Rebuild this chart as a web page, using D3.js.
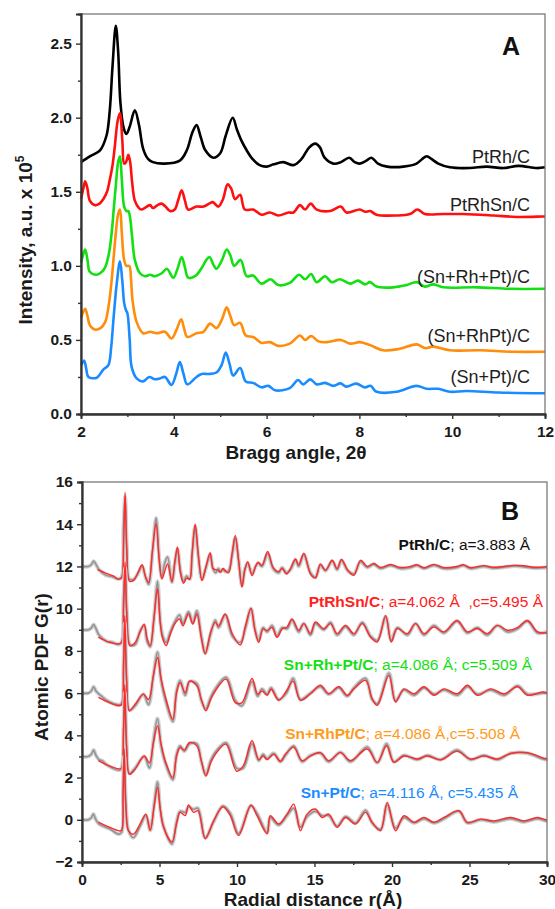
<!DOCTYPE html>
<html><head><meta charset="utf-8">
<script src="https://cdn.jsdelivr.net/npm/d3@7"></script>
<style>
body{margin:0;background:#fff}
text{font-family:"Liberation Sans",Arial,sans-serif}
</style></head>
<body><svg id="c" width="555" height="909"></svg>
<script>
// ---------- Panel A data: XRD patterns [2theta, intensity x1e5] ----------
const xrdNames = ["PtRh/C","PtRhSn/C","(Sn+Rh+Pt)/C","(Sn+RhPt)/C","(Sn+Pt)/C"];
const xrdColors = ["#000000","#ff1010","#12e012","#ff8c0a","#1a8cff"];
const xrdPtRh = [[2.0,1.70],[2.2,1.74],[2.41,1.78],[2.55,1.88],[2.62,2.05],[2.68,2.35],[2.75,2.62],[2.8,2.45],[2.85,2.1],[2.92,1.93],[2.98,1.89],[3.05,1.94],[3.16,2.05],[3.25,1.95],[3.34,1.79],[3.45,1.72],[3.55,1.70],[3.8,1.69],[4.13,1.71],[4.28,1.78],[4.4,1.9],[4.49,1.95],[4.58,1.87],[4.68,1.78],[4.85,1.73],[5.0,1.76],[5.12,1.88],[5.27,2.0],[5.36,1.92],[5.45,1.85],[5.57,1.78],[5.7,1.72],[5.85,1.68],[6.0,1.67],[6.15,1.685],[6.36,1.70],[6.58,1.68],[6.75,1.72],[6.92,1.80],[7.05,1.825],[7.15,1.80],[7.25,1.73],[7.44,1.69],[7.6,1.70],[7.78,1.73],[7.9,1.70],[8.01,1.69],[8.15,1.71],[8.26,1.73],[8.4,1.69],[8.6,1.67],[8.95,1.67],[9.23,1.69],[9.35,1.72],[9.45,1.74],[9.56,1.72],[9.7,1.69],[9.95,1.665],[10.38,1.66],[10.74,1.67],[11.1,1.66],[11.43,1.675],[11.82,1.66],[12.0,1.665]];
const xrdPtRhSn = [[2.0,1.45],[2.05,1.52],[2.09,1.57],[2.14,1.52],[2.19,1.44],[2.3,1.41],[2.4,1.42],[2.48,1.45],[2.56,1.50],[2.62,1.58],[2.68,1.68],[2.73,1.81],[2.79,1.98],[2.84,2.03],[2.89,1.85],[2.93,1.69],[2.97,1.70],[3.02,1.75],[3.06,1.70],[3.1,1.57],[3.16,1.44],[3.25,1.39],[3.31,1.38],[3.42,1.40],[3.49,1.41],[3.55,1.39],[3.65,1.41],[3.74,1.42],[3.82,1.40],[3.92,1.37],[4.02,1.38],[4.1,1.45],[4.17,1.51],[4.24,1.44],[4.31,1.38],[4.49,1.40],[4.64,1.40],[4.76,1.42],[4.84,1.43],[4.96,1.40],[5.06,1.45],[5.16,1.55],[5.24,1.52],[5.32,1.45],[5.43,1.48],[5.53,1.38],[5.71,1.38],[5.89,1.345],[6.07,1.36],[6.25,1.34],[6.47,1.36],[6.58,1.36],[6.72,1.41],[6.83,1.38],[6.95,1.42],[7.08,1.38],[7.37,1.37],[7.6,1.40],[7.72,1.36],[8.01,1.38],[8.12,1.365],[8.23,1.37],[8.37,1.345],[8.8,1.34],[9.09,1.35],[9.25,1.38],[9.41,1.35],[9.81,1.35],[10.24,1.35],[10.89,1.34],[11.39,1.33],[11.96,1.333],[12.0,1.333]];
const xrdSnRhPt = [[2.0,1.02],[2.05,1.08],[2.09,1.11],[2.14,1.04],[2.19,0.96],[2.34,0.94],[2.45,0.96],[2.52,0.99],[2.6,1.08],[2.66,1.22],[2.71,1.40],[2.75,1.54],[2.8,1.70],[2.84,1.74],[2.88,1.58],[2.93,1.40],[2.98,1.37],[3.02,1.37],[3.06,1.32],[3.1,1.20],[3.16,1.04],[3.27,0.95],[3.38,0.93],[3.49,0.94],[3.59,0.93],[3.74,0.95],[3.85,0.98],[3.99,0.92],[4.08,0.98],[4.17,1.06],[4.24,0.99],[4.31,0.92],[4.46,0.93],[4.6,0.985],[4.7,1.04],[4.77,1.06],[4.85,1.01],[4.92,0.98],[5.04,1.04],[5.14,1.11],[5.22,1.07],[5.3,1.00],[5.44,1.04],[5.57,0.93],[5.71,0.935],[5.89,0.88],[6.09,0.91],[6.25,0.87],[6.5,0.885],[6.7,0.94],[6.83,0.91],[6.96,0.945],[7.08,0.89],[7.26,0.93],[7.4,0.89],[7.58,0.91],[7.8,0.88],[7.97,0.90],[8.12,0.875],[8.23,0.89],[8.37,0.86],[8.73,0.855],[9.01,0.87],[9.24,0.89],[9.41,0.86],[9.59,0.875],[9.81,0.855],[10.53,0.855],[11.25,0.845],[12.0,0.845]];
const xrdSnRhPt2 = [[2.0,0.65],[2.05,0.69],[2.09,0.71],[2.14,0.66],[2.19,0.60],[2.3,0.57],[2.42,0.58],[2.52,0.62],[2.6,0.74],[2.66,0.90],[2.71,1.08],[2.75,1.22],[2.8,1.35],[2.84,1.38],[2.88,1.22],[2.93,1.04],[2.98,1.00],[3.04,1.00],[3.08,0.90],[3.11,0.77],[3.2,0.62],[3.34,0.545],[3.49,0.555],[3.63,0.545],[3.81,0.555],[3.95,0.51],[4.06,0.57],[4.16,0.64],[4.22,0.58],[4.29,0.52],[4.49,0.545],[4.64,0.555],[4.78,0.61],[4.92,0.58],[5.04,0.64],[5.14,0.72],[5.22,0.66],[5.3,0.60],[5.43,0.615],[5.55,0.53],[5.71,0.52],[5.89,0.48],[6.07,0.485],[6.25,0.46],[6.5,0.475],[6.72,0.53],[6.83,0.50],[6.96,0.527],[7.12,0.49],[7.3,0.485],[7.6,0.50],[7.8,0.475],[8.01,0.485],[8.23,0.465],[8.51,0.43],[8.87,0.44],[9.24,0.47],[9.41,0.445],[9.59,0.455],[9.95,0.43],[10.6,0.43],[11.3,0.42],[12.0,0.42]];
const xrdSnPt = [[2.0,0.33],[2.04,0.35],[2.07,0.36],[2.11,0.31],[2.16,0.25],[2.34,0.245],[2.48,0.30],[2.59,0.33],[2.65,0.45],[2.7,0.64],[2.77,0.88],[2.84,1.03],[2.89,0.90],[2.93,0.75],[2.97,0.70],[3.0,0.68],[3.05,0.50],[3.09,0.32],[3.2,0.24],[3.34,0.22],[3.47,0.25],[3.59,0.235],[3.7,0.24],[3.81,0.25],[3.95,0.196],[4.05,0.27],[4.13,0.35],[4.21,0.27],[4.29,0.20],[4.49,0.25],[4.6,0.27],[4.75,0.27],[4.92,0.28],[5.03,0.33],[5.12,0.415],[5.2,0.34],[5.28,0.26],[5.43,0.31],[5.55,0.22],[5.71,0.21],[5.89,0.18],[6.04,0.19],[6.18,0.16],[6.5,0.175],[6.68,0.23],[6.79,0.20],[6.94,0.234],[7.08,0.20],[7.26,0.21],[7.44,0.19],[7.59,0.207],[7.72,0.185],[7.93,0.205],[8.12,0.18],[8.24,0.19],[8.37,0.15],[8.8,0.15],[9.23,0.19],[9.45,0.17],[9.7,0.17],[9.95,0.15],[10.31,0.155],[11.0,0.145],[12.0,0.14]];
const xrdSeries = [xrdPtRh, xrdPtRhSn, xrdSnRhPt, xrdSnRhPt2, xrdSnPt];
const xrdTicksX = [2,4,6,8,10,12];
const xrdTicksY = [0,0.5,1.0,1.5,2.0,2.5];

// ---------- Panel B data: PDF G(r), values relative to stacking offset ----------
const pdfNames = ["PtRh/C","PtRhSn/C","Sn+Rh+Pt/C","Sn+RhPt/C","Sn+Pt/C"];
const pdfParams = ["; a=3.883 Å","; a=4.062 Å  ,c=5.495 Å","; a=4.086 Å; c=5.509 Å","; a=4.086 Å,c=5.508 Å","; a=4.116 Å, c=5.435 Å"];
const pdfTextColors = ["#111111","#ff2020","#14e014","#ff9a1a","#1a8cff"];
const pdfOffsets = [12, 9, 6, 3, 0];
const fit1 = [[1.0,-0.15],[1.5,-0.3],[2.0,-0.45],[2.35,-0.6],[2.55,-0.55],[2.68,1.0],[2.78,3.5],[2.9,0.5],[3.06,-0.7],[3.35,-0.65],[3.6,-0.3],[3.88,0.08],[4.1,-0.5],[4.3,-0.75],[4.55,0.8],[4.78,2.02],[4.98,0.3],[5.15,-0.6],[5.35,-0.2],[5.52,0.12],[5.8,-0.72],[6.0,0.3],[6.16,0.92],[6.35,-0.3],[6.55,-0.8],[6.75,-0.55],[6.95,-0.6],[7.1,0.6],[7.3,2.0],[7.5,0.6],[7.74,-0.67],[8.0,0.0],[8.27,0.65],[8.45,-0.1],[8.62,-0.15],[8.8,-0.2],[8.92,-0.27],[9.1,-0.1],[9.25,-0.2],[9.46,-0.3],[9.68,0.6],[9.89,1.47],[10.1,0.3],[10.32,-0.98],[10.5,-0.2],[10.69,0.23],[10.97,-0.44],[11.2,0.0],[11.36,0.2],[11.61,0.05],[11.98,0.71],[12.33,-0.04],[12.69,-0.24],[12.91,-0.1],[13.19,-0.36],[13.45,-0.1],[13.77,0.35],[13.98,0.07],[14.31,0.63],[14.74,-0.36],[15.06,-0.55],[15.38,0.12],[15.71,-0.18],[16.14,0.29],[16.46,-0.1],[16.74,0.33],[17.15,-0.18],[17.54,-0.42],[17.97,0.29],[18.4,0.0],[18.83,0.14],[19.26,-0.05],[19.9,0.09],[20.55,-0.05],[21.2,0.0],[21.6,0.08],[22.06,-0.06],[22.7,0.1],[23.35,-0.06],[24.2,0.0],[24.6,0.08],[25.07,-0.06],[25.93,0.04],[26.5,-0.04],[27.22,0.0],[27.9,0.05],[28.51,0.03],[29.2,-0.04],[30,0.0]];
const exp1 = [[0,0],[0.4,0],[0.6,0.08],[0.75,0.25],[0.9,0.1],[1.1,-0.15],[1.5,-0.4],[2.0,-0.5],[2.35,-0.6],[2.55,-0.5],[2.68,1.9],[2.78,3.3],[2.9,0.8],[3.06,-0.6],[3.35,-0.6],[3.6,-0.35],[3.88,0.0],[4.1,-0.5],[4.3,-0.85],[4.55,0.7],[4.78,2.3],[4.98,0.4],[5.15,-0.5],[5.35,0.2],[5.52,0.45],[5.8,-0.75],[6.0,0.2],[6.16,0.8],[6.35,-0.2],[6.55,-0.7],[6.75,-0.45],[6.95,-0.6],[7.1,0.5],[7.3,1.9],[7.5,0.5],[7.74,-0.6],[8.0,-0.05],[8.27,0.55],[8.45,-0.1],[8.62,-0.3],[8.8,-0.1],[8.92,-0.25],[9.1,-0.15],[9.25,-0.25],[9.46,-0.2],[9.68,0.5],[9.89,1.35],[10.1,0.3],[10.32,-0.9],[10.5,-0.15],[10.69,0.15],[10.97,-0.35],[11.2,0.0],[11.36,0.15],[11.61,0.0],[11.98,0.6],[12.33,-0.1],[12.69,-0.3],[12.91,-0.05],[13.19,-0.3],[13.45,-0.15],[13.77,0.3],[13.98,0.0],[14.31,0.55],[14.74,-0.3],[15.06,-0.5],[15.38,0.05],[15.71,-0.2],[16.14,0.25],[16.46,-0.15],[16.74,0.28],[17.15,-0.2],[17.54,-0.35],[17.97,0.22],[18.4,-0.05],[18.83,0.1],[19.26,-0.1],[19.9,0.05],[20.55,-0.1],[21.2,-0.05],[21.6,0.05],[22.06,-0.1],[22.7,0.05],[23.35,-0.1],[24.2,-0.05],[24.6,0.05],[25.07,-0.1],[25.93,0.0],[26.5,-0.08],[27.22,-0.04],[27.9,0.02],[28.51,-0.02],[29.2,-0.08],[30,-0.05]];
const fit2 = [[1.05,-0.35],[1.6,-0.55],[2.35,-0.67],[2.55,-0.6],[2.68,1.0],[2.78,3.2],[2.9,0.5],[3.1,-0.76],[3.43,-0.6],[3.75,-0.1],[4.01,0.27],[4.2,-0.4],[4.4,-0.76],[4.65,0.6],[4.87,1.94],[5.05,0.3],[5.21,-0.44],[5.43,-0.75],[5.7,-0.2],[6.0,0.3],[6.29,0.51],[6.51,0.19],[6.87,0.75],[7.15,0.27],[7.41,0.75],[7.7,-0.4],[7.95,-1.15],[8.3,-0.1],[8.6,0.35],[8.81,0.19],[9.24,0.75],[9.7,-0.2],[10.21,-0.72],[10.55,0.2],[10.9,1.02],[11.15,0.0],[11.4,-0.6],[11.68,0.04],[11.94,-0.04],[12.26,0.11],[12.58,-0.36],[12.91,0.04],[13.23,0.13],[13.55,0.51],[13.98,-0.02],[14.31,0.29],[14.74,-0.18],[15.06,0.37],[15.6,0.05],[16.03,0.29],[16.46,-0.18],[17.0,0.21],[17.54,-0.18],[18.08,0.29],[18.62,-0.35],[19.05,-0.58],[19.59,0.68],[19.95,-0.58],[20.34,0.06],[20.99,-0.18],[21.52,0.29],[22.06,-0.18],[22.7,0.13],[23.35,-0.1],[24.2,0.44],[24.86,-0.1],[25.5,0.06],[26.15,-0.18],[26.8,0.21],[27.45,-0.02],[28.1,0.1],[28.74,0.44],[29.39,-0.1],[30,-0.15]];
const exp2 = [[0,0],[0.4,0],[0.6,0.08],[0.75,0.25],[0.9,0.05],[1.1,-0.25],[1.6,-0.55],[2.0,-0.6],[2.35,-0.7],[2.55,-0.6],[2.68,1.5],[2.78,2.9],[2.9,0.8],[3.1,-0.7],[3.43,-0.7],[3.75,-0.05],[4.01,0.2],[4.2,-0.55],[4.4,-0.8],[4.65,0.6],[4.87,2.3],[5.05,0.4],[5.21,-0.3],[5.43,-0.6],[5.7,-0.1],[6.0,0.4],[6.29,0.7],[6.51,0.3],[6.87,0.85],[7.15,0.35],[7.41,0.9],[7.7,-0.3],[7.95,-1.1],[8.3,-0.2],[8.6,0.45],[8.81,0.1],[9.24,0.7],[9.7,-0.3],[10.21,-0.6],[10.55,0.1],[10.9,1.0],[11.15,0.05],[11.4,-0.5],[11.68,0.1],[11.94,-0.1],[12.26,0.2],[12.58,-0.3],[12.91,0.1],[13.23,0.05],[13.55,0.45],[13.98,-0.1],[14.31,0.3],[14.74,-0.25],[15.06,0.3],[15.6,0.0],[16.03,0.35],[16.46,-0.25],[17.0,0.15],[17.54,-0.25],[18.08,0.35],[18.62,-0.3],[19.05,-0.5],[19.59,0.6],[19.95,-0.5],[20.34,0.1],[20.99,-0.25],[21.52,0.3],[22.06,-0.25],[22.7,0.2],[23.35,-0.15],[24.2,0.4],[24.86,-0.15],[25.5,0.1],[26.15,-0.25],[26.8,0.2],[27.45,-0.1],[28.1,0.05],[28.74,0.4],[29.39,-0.15],[30,-0.1]];
const fit3 = [[1.06,-0.2],[1.6,-0.4],[2.35,-0.6],[2.55,-0.55],[2.68,1.2],[2.76,3.67],[2.88,0.5],[3.06,-0.84],[3.43,-0.53],[3.96,-0.05],[4.29,-0.3],[4.6,0.8],[4.87,1.69],[5.1,0.7],[5.37,-0.14],[5.86,-1.24],[6.1,0.0],[6.33,0.49],[6.66,0.02],[6.94,0.57],[7.41,0.34],[7.7,-0.3],[7.99,-0.84],[8.3,-0.3],[8.6,0.1],[9.29,0.66],[9.89,-0.45],[10.32,-0.45],[10.97,0.69],[11.33,-0.05],[11.61,0.1],[11.94,-0.1],[12.2,0.18],[12.69,-0.34],[13.19,0.1],[13.62,0.57],[14.09,-0.34],[14.74,-0.03],[15.38,0.37],[15.92,-0.03],[16.57,0.3],[17.11,-0.1],[17.54,0.2],[18.29,0.6],[18.72,-0.26],[19.05,-0.58],[19.8,0.84],[20.23,-0.42],[20.77,0.2],[21.42,-0.03],[22.06,0.3],[22.71,-0.1],[23.36,0.2],[24.22,-0.03],[24.87,0.37],[25.51,-0.1],[26.38,0.2],[27.24,-0.03],[28.1,0.3],[28.74,-0.1],[29.72,0.05],[30,0.0]];
const exp3 = [[0,0],[0.4,0],[0.6,0.1],[0.75,0.3],[0.9,0.1],[1.1,-0.05],[1.27,-0.15],[1.6,-0.35],[2.35,-0.55],[2.55,-0.5],[2.68,1.5],[2.76,3.3],[2.88,0.8],[3.06,-0.8],[3.43,-0.6],[3.96,-0.05],[4.29,-0.55],[4.6,0.8],[4.87,1.95],[5.1,0.6],[5.37,-0.3],[5.86,-1.35],[6.1,0.1],[6.33,0.6],[6.66,-0.1],[6.94,0.55],[7.41,0.45],[7.7,-0.35],[7.99,-0.75],[8.3,-0.2],[8.6,0.2],[9.29,0.75],[9.89,-0.35],[10.32,-0.6],[10.97,0.55],[11.33,-0.15],[11.61,0.2],[11.94,-0.05],[12.2,0.25],[12.69,-0.3],[13.19,0.0],[13.62,0.7],[14.09,-0.3],[14.74,0.0],[15.38,0.3],[15.92,-0.05],[16.57,0.25],[17.11,-0.15],[17.54,0.25],[18.29,0.7],[18.72,-0.3],[19.05,-0.5],[19.8,0.95],[20.23,-0.35],[20.77,0.15],[21.42,-0.1],[22.06,0.25],[22.71,-0.05],[23.36,0.15],[24.22,-0.1],[24.87,0.3],[25.51,-0.05],[26.38,0.15],[27.24,-0.1],[28.1,0.35],[28.74,-0.05],[29.72,0.0],[30,0.0]];
const fit4 = [[1.06,-0.2],[1.6,-0.4],[2.4,-0.59],[2.55,-0.55],[2.68,1.2],[2.76,3.4],[2.88,0.3],[3.06,-0.85],[3.43,-0.6],[4.01,0.02],[4.35,-0.3],[4.6,0.6],[4.87,1.45],[5.1,0.6],[5.37,-0.2],[5.86,-1.01],[6.1,0.0],[6.33,0.42],[6.6,0.3],[6.94,0.66],[7.41,0.5],[7.7,-0.2],[7.99,-0.93],[8.3,-0.3],[8.6,0.1],[9.29,0.58],[9.98,-0.7],[10.4,-0.45],[10.97,0.74],[11.4,-0.15],[11.68,0.02],[11.94,-0.15],[12.37,0.1],[12.8,-0.23],[13.12,0.1],[13.66,0.43],[14.2,-0.2],[14.74,0.02],[15.38,0.18],[15.92,-0.2],[16.67,0.18],[17.32,-0.2],[18.4,0.35],[19.05,-0.28],[19.65,0.51],[20.12,-0.28],[20.77,0.02],[21.63,-0.12],[22.28,0.02],[23.14,-0.16],[24.2,0.24],[25.07,-0.12],[25.93,0.02],[26.8,-0.12],[27.66,0.14],[28.74,0.18],[29.9,-0.1],[30,-0.08]];
const exp4 = [[0,0],[0.4,0],[0.6,0.1],[0.75,0.3],[0.9,0.05],[1.1,-0.15],[1.3,-0.2],[1.6,-0.4],[2.4,-0.65],[2.55,-0.55],[2.68,1.4],[2.76,3.0],[2.88,0.6],[3.06,-0.8],[3.43,-0.55],[4.01,0.0],[4.35,-0.55],[4.6,0.7],[4.87,1.8],[5.1,0.5],[5.37,-0.3],[5.86,-1.1],[6.1,0.1],[6.33,0.5],[6.6,0.25],[6.94,0.6],[7.41,0.6],[7.7,-0.25],[7.99,-0.85],[8.3,-0.2],[8.6,0.2],[9.29,0.65],[9.98,-0.55],[10.4,-0.55],[10.97,0.6],[11.4,-0.2],[11.68,0.1],[11.94,-0.1],[12.37,0.15],[12.8,-0.25],[13.12,0.05],[13.66,0.5],[14.2,-0.25],[14.74,0.05],[15.38,0.15],[15.92,-0.25],[16.67,0.2],[17.32,-0.25],[18.4,0.45],[19.05,-0.3],[19.65,0.6],[20.12,-0.25],[20.77,0.05],[21.63,-0.15],[22.28,0.05],[23.14,-0.15],[24.2,0.3],[25.07,-0.15],[25.93,0.05],[26.8,-0.15],[27.66,0.15],[28.74,0.15],[29.9,-0.15],[30,-0.1]];
const fit5 = [[1.06,-0.11],[1.6,-0.3],[2.46,-0.53],[2.58,-0.45],[2.65,1.2],[2.72,3.36],[2.84,0.5],[3.0,-0.53],[3.32,-0.68],[3.75,-0.2],[4.12,0.27],[4.4,-0.5],[4.65,0.6],[4.87,1.53],[5.05,0.5],[5.26,-0.35],[5.8,-1.05],[6.1,-0.2],[6.33,0.35],[6.66,0.2],[6.87,0.7],[7.2,0.35],[7.48,0.43],[7.95,-0.9],[8.49,-0.05],[9.09,0.62],[9.57,0.2],[10.1,-0.74],[10.9,0.7],[11.29,0.2],[11.94,-0.66],[12.15,0.19],[12.69,-0.2],[13.23,0.27],[13.66,0.74],[14.09,-0.52],[14.52,0.27],[15.06,0.51],[15.49,0.11],[15.92,0.27],[16.46,-0.36],[17.0,0.11],[17.65,-0.2],[18.29,0.35],[18.72,-0.12],[19.26,-0.52],[19.69,0.82],[20.23,-0.52],[20.77,0.19],[21.42,-0.12],[22.06,0.11],[22.71,-0.12],[23.35,0.11],[24.32,0.43],[24.86,-0.12],[25.72,0.03],[26.58,-0.05],[27.66,0.11],[28.5,-0.05],[29.39,0.11],[29.9,0.0],[30,0.0]];
const exp5 = [[0,0],[0.4,0],[0.6,0.1],[0.73,0.27],[0.9,0.0],[1.1,-0.2],[1.81,-0.44],[2.35,-0.68],[2.55,-0.6],[2.65,1.4],[2.72,3.0],[2.84,0.6],[3.0,-0.5],[3.32,-0.85],[3.75,-0.3],[4.12,0.2],[4.4,-0.5],[4.65,0.7],[4.87,1.8],[5.05,0.5],[5.26,-0.3],[5.8,-1.15],[6.1,-0.1],[6.33,0.4],[6.66,0.35],[6.87,0.6],[7.2,0.5],[7.48,0.55],[7.95,-0.85],[8.49,-0.1],[9.09,0.65],[9.57,0.3],[10.1,-0.65],[10.9,0.65],[11.29,0.3],[11.94,-0.6],[12.15,0.1],[12.69,-0.25],[13.23,0.2],[13.66,0.55],[14.09,-0.35],[14.52,0.15],[15.06,0.4],[15.49,0.2],[15.92,0.2],[16.46,-0.3],[17.0,0.15],[17.65,-0.15],[18.29,0.45],[18.72,-0.15],[19.26,-0.45],[19.69,0.7],[20.23,-0.4],[20.77,0.1],[21.42,-0.15],[22.06,0.05],[22.71,-0.15],[23.35,0.05],[24.32,0.4],[24.86,-0.15],[25.72,0.0],[26.58,-0.1],[27.66,0.05],[28.5,-0.1],[29.39,0.05],[29.9,-0.05],[30,-0.05]];
const pdfFits = [fit1, fit2, fit3, fit4, fit5];
const pdfExps = [exp1, exp2, exp3, exp4, exp5];
const pdfTicksX = [0,5,10,15,20,25,30];
const pdfTicksY = [-2,0,2,4,6,8,10,12,14,16];

// ---------- layout ----------
const svg = d3.select("#c");
const FONT = '"Liberation Sans",Arial,sans-serif';
const A = {l:81, r:545, t:14, b:414};
const B = {l:82, r:547, t:482, b:862};

function drawAxes(box, x, y, xt, xminor, yt, yminor, yfmt) {
  svg.append("rect").attr("x", box.l).attr("y", box.t).attr("width", box.r-box.l).attr("height", box.b-box.t)
    .attr("fill","none").attr("stroke","#6e6e6e").attr("stroke-width",1.2);
  const gx = svg.append("g").attr("transform",`translate(0,${box.b})`)
    .call(d3.axisBottom(x).tickValues(xt).tickSize(5).tickPadding(7).tickFormat(d3.format("d")));
  const gxm = svg.append("g").attr("transform",`translate(0,${box.b})`)
    .call(d3.axisBottom(x).tickValues(xminor).tickSize(3).tickFormat(""));
  const gy = svg.append("g").attr("transform",`translate(${box.l},0)`)
    .call(d3.axisLeft(y).tickValues(yt).tickSize(5).tickPadding(4).tickFormat(yfmt));
  const gym = svg.append("g").attr("transform",`translate(${box.l},0)`)
    .call(d3.axisLeft(y).tickValues(yminor).tickSize(3).tickFormat(""));
  [gx,gxm,gy,gym].forEach(g=>{
    g.select(".domain").attr("stroke","#333").attr("stroke-width",1.8);
    g.selectAll(".tick line").attr("stroke","#333").attr("stroke-width",1.4);
    g.selectAll(".tick text").attr("font-family",FONT).attr("font-size",15.5).attr("font-weight","bold").attr("fill","#1a1a1a");
  });
}

// ---------- Panel A ----------
const xA = d3.scaleLinear().domain([2,12]).range([A.l, A.r]);
const yA = d3.scaleLinear().domain([0,2.7]).range([A.b, A.t]);
const lineA = d3.line().x(d=>xA(d[0])).y(d=>yA(d[1])).curve(d3.curveCatmullRom.alpha(0.5));
xrdSeries.forEach((s,i)=>{
  svg.append("path").datum(s).attr("d", lineA).attr("fill","none")
    .attr("stroke", xrdColors[i]).attr("stroke-width",2.6).attr("stroke-linejoin","round");
});
drawAxes(A, xA, yA, xrdTicksX, [3,5,7,9,11], xrdTicksY, [0.25,0.75,1.25,1.75,2.25], d3.format(".1f"));

const xrdLabelY = [163, 211, 283, 342, 383];
xrdNames.forEach((n,i)=>{
  svg.append("text").attr("x",530).attr("y",xrdLabelY[i]).attr("text-anchor","end")
    .attr("font-size",18).attr("fill","#1e1e1e").text(n);
});
svg.append("text").attr("x",520).attr("y",55).attr("text-anchor","end")
  .attr("font-size",25).attr("font-weight","bold").attr("fill","#111").text("A");
svg.append("text").attr("x",296).attr("y",459).attr("text-anchor","middle")
  .attr("font-size",19).attr("font-weight","bold").attr("fill","#1a1a1a").text("Bragg angle, 2θ");
const ytA = svg.append("text").attr("transform","translate(32,240) rotate(-90)").attr("text-anchor","middle")
  .attr("font-size",19).attr("font-weight","bold").attr("fill","#1a1a1a");
ytA.append("tspan").text("Intensity, a.u. x 10");
ytA.append("tspan").attr("dy",-8).attr("font-size",12).text("5");

// ---------- Panel B ----------
const xB = d3.scaleLinear().domain([0,30]).range([B.l, B.r]);
const yB = d3.scaleLinear().domain([-2,16]).range([B.b, B.t]);
pdfFits.forEach((fit,i)=>{
  const off = pdfOffsets[i];
  const ln = d3.line().x(d=>xB(d[0])).y(d=>yB(d[1]+off)).curve(d3.curveCatmullRom.alpha(0.5));
  svg.append("path").datum(pdfExps[i]).attr("d", ln).attr("fill","none")
    .attr("stroke","#d2d2d2").attr("stroke-width",4).attr("stroke-linejoin","round");
  svg.append("path").datum(pdfExps[i]).attr("d", ln).attr("fill","none")
    .attr("stroke","#6a6a6a").attr("stroke-width",1.6).attr("stroke-opacity",0.6).attr("stroke-linejoin","round");
  svg.append("path").datum(fit).attr("d", ln).attr("fill","none")
    .attr("stroke","#ff2a2a").attr("stroke-width",1.4).attr("stroke-linejoin","round");
});
drawAxes(B, xB, yB, pdfTicksX, [2.5,7.5,12.5,17.5,22.5,27.5], pdfTicksY, [-1,1,3,5,7,9,11,13,15], d3.format("d"));

const pdfLabelX = [530, 543, 532, 520, 518];
const pdfLabelY = [550, 607, 670, 739, 798];
pdfNames.forEach((n,i)=>{
  const t = svg.append("text").attr("x",pdfLabelX[i]).attr("y",pdfLabelY[i]).attr("text-anchor","end")
    .attr("font-size",15.5).attr("fill",pdfTextColors[i]).style("white-space","pre");
  t.append("tspan").attr("font-weight","bold").text(n);
  t.append("tspan").text(pdfParams[i]);
});
svg.append("text").attr("x",519).attr("y",520).attr("text-anchor","end")
  .attr("font-size",25).attr("font-weight","bold").attr("fill","#111").text("B");
svg.append("text").attr("x",313).attr("y",906).attr("text-anchor","middle")
  .attr("font-size",19).attr("font-weight","bold").attr("fill","#1a1a1a").text("Radial distance r(Å)");
svg.append("text").attr("transform","translate(48,667) rotate(-90)").attr("text-anchor","middle")
  .attr("font-size",19).attr("font-weight","bold").attr("fill","#1a1a1a").text("Atomic PDF G(r)");
</script></body></html>
